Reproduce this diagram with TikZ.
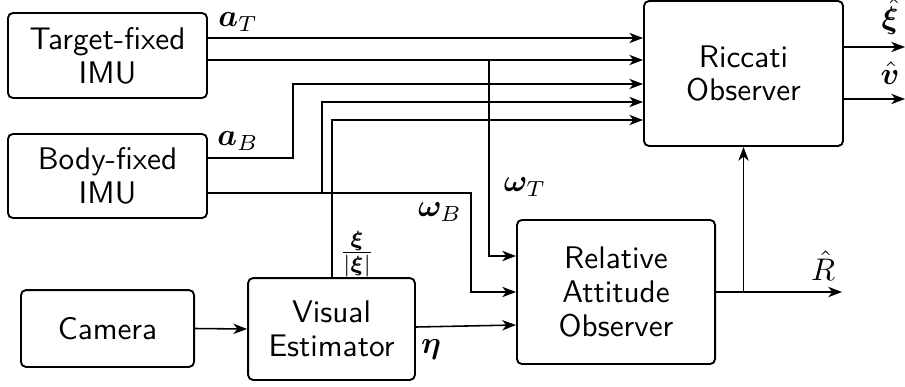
\documentclass[tikz,border=0pt]{standalone}
\usepackage{amsmath,bm}
\usetikzlibrary{arrows.meta}
\begin{document}
\begin{tikzpicture}[x=0.32pt,y=-0.32pt,
  block/.style={draw,line width=0.6pt,rounded corners=1.6pt,align=center,
    font=\sffamily\fontsize{10}{10.8}\selectfont,inner sep=0pt},
  arr/.style={line width=0.5pt,-{Stealth[length=4.4pt,width=3.3pt,inset=1.3pt]}},
  lbl/.style={inner sep=0pt,font=\fontsize{10}{12}\selectfont}]
\useasboundingbox (0,0) rectangle (905,386);

% blocks
\node[block,minimum width=63.7pt,minimum height=27.2pt] (tgt) at (107.5,55.5) {Target-fixed\\IMU};
\node[block,minimum width=63.7pt,minimum height=26.9pt] (body) at (107.5,176) {Body-fixed\\IMU};
\node[block,minimum width=55.4pt,minimum height=24.6pt] (cam) at (107.5,328.5) {Camera};
\node[block,minimum width=53.4pt,minimum height=32.6pt] (ve) at (331.5,329) {Visual\\Estimator};
\node[block,minimum width=63.4pt,minimum height=46.1pt] (rao) at (616,292) {Relative\\Attitude\\Observer};
\node[block,minimum width=63.7pt,minimum height=46.4pt] (ric) at (743.5,73.5) {Riccati\\Observer};

% signal levels and bends
\coordinate (l1) at (0,38);
\coordinate (l2) at (0,60);
\coordinate (l3) at (0,84);
\coordinate (l4) at (0,102);
\coordinate (l5) at (0,120);
\coordinate (wT) at (489,60);
\coordinate (bA) at (293,158);
\coordinate (bW) at (471,193);
\coordinate (jW) at (322,193);
\coordinate (xi) at (332,278);
\coordinate (Rend) at (842,292);
\coordinate (jR) at (743.5,292);
\coordinate (oXi) at (905,47);
\coordinate (oV) at (905,99);

% target-fixed IMU signals
\draw[arr] (tgt.east |- l1) -- (ric.west |- l1);
\draw[arr] (tgt.east |- l2) -- (ric.west |- l2);
\draw[arr] (wT) |- (rao.west |- 0,256);

% body-fixed IMU signals
\draw[arr] (body.east |- bA) -| (bA |- l3) -- (ric.west |- l3);
\draw[arr] (body.east |- bW) -| (bW |- rao.east) -- (rao.west);
\draw[arr] (jW) |- (ric.west |- l4);

% visual estimator signals
\draw[arr] (xi) |- (ric.west |- l5);
\draw[arr] (cam.east) -- (ve.west);
\draw[arr] (ve.east |- 0,327) -- (rao.west |- 0,325);

% attitude estimate
\draw[arr] (rao.east) -- (Rend);
\draw[arr] (jR) -- (ric.south);

% Riccati outputs
\draw[arr] (ric.east |- oXi) -- (oXi);
\draw[arr] (ric.east |- oV) -- (oV);

% labels
\node[lbl] (laT) at (238,22) {$\bm{a}_T$};
\node[lbl] (laB) at (238,141) {$\bm{a}_B$};
\node[lbl] (lwT) at (525,187) {$\bm{\omega}_T$};
\node[lbl] (lwB) at (440,212) {$\bm{\omega}_B$};
\node[lbl] (lxi) at (357,254) {$\tfrac{\bm{\xi}}{|\bm{\xi}|}$};
\node[lbl] (leta) at (431,350) {$\bm{\eta}$};
\node[lbl] (lR) at (823,266) {$\hat{R}$};
\node[lbl] (lxh) at (890,17) {$\hat{\bm{\xi}}$};
\node[lbl] (lvh) at (890,73) {$\hat{\bm{v}}$};
\end{tikzpicture}
\end{document}
